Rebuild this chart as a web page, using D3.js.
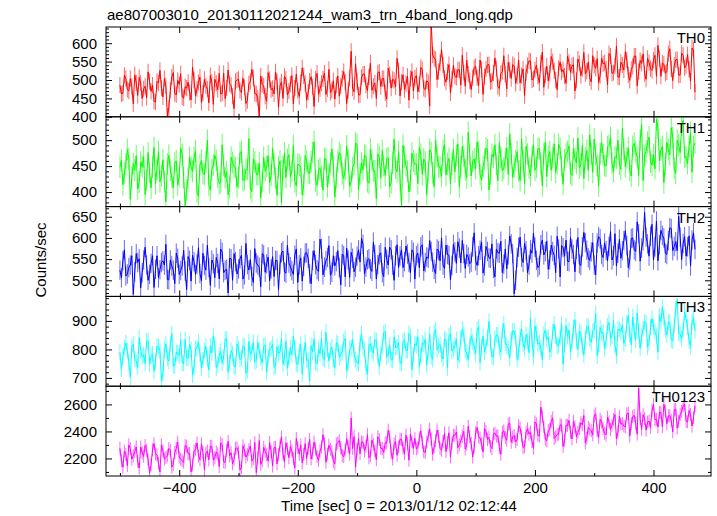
<!DOCTYPE html>
<html><head><meta charset="utf-8">
<script src="https://cdn.jsdelivr.net/npm/d3@7"></script>
<style>
body{margin:0;background:#fff}
text{font-family:"Liberation Sans",Arial,Helvetica,sans-serif}
</style>
</head><body>
<svg id="chart" width="717" height="516"></svg>
<script>
const chartTitle = "ae807003010_20130112021244_wam3_trn_4band_long.qdp";
const xLabel = "Time [sec] 0 = 2013/01/12 02:12:44";
const yLabel = "Counts/sec";
const timeStart = -500, timeStep = 2.5;
const xDomain = [-523.5, 497];
const xMajorTicks = [-400, -200, 0, 200, 400];
const xMinorTicks = [-500, -300, -100, 100, 300];

const panelNames = ["TH0", "TH1", "TH2", "TH3", "TH0123"];
const panelColors = ["#ff0000", "#00ff00", "#0000ff", "#00ffff", "#ff00ff"];
const panelDomains = [[400, 644], [372, 545], [462, 674], [671, 986], [2070, 2735]];
const panelMajorTicks = [[400,450,500,550,600],[400,450,500],[500,550,600,650],[700,800,900],[2200,2400,2600]];
const panelMinorStep = [10, 10, 10, 20, 100];
const panelErrors = [22, 21, 23, 28, 48];

const th0 = [
486,462,464,513,504,474,470,504,482,435,514,492,458,507,492,450,476,483,452,522,
496,469,486,442,440,496,492,526,478,454,504,484,402,424,472,508,520,463,460,499,
488,517,454,451,482,478,494,466,446,535,500,457,476,493,508,439,464,502,484,475,
438,512,494,434,502,491,474,518,462,464,518,449,478,527,490,485,456,422,496,500,
502,472,466,505,480,436,444,490,496,529,506,463,462,451,398,511,488,484,456,442,
520,501,474,477,462,522,496,426,484,495,450,510,502,459,470,489,512,435,478,516,
471,455,493,533,511,491,445,467,497,509,481,428,503,518,461,476,491,503,519,461,
476,529,466,472,498,448,486,511,456,484,504,523,494,436,472,505,578,478,468,544,
496,459,460,507,516,516,486,471,508,546,472,483,492,450,520,522,482,504,504,465,
448,532,514,478,502,499,482,559,526,457,494,514,474,490,510,445,504,523,470,505,
512,468,488,534,528,477,474,498,494,429,660,568,559,556,501,523,547,583,541,505,
494,522,542,465,502,540,510,507,528,528,486,567,520,483,554,516,498,474,506,534,
537,506,485,554,529,461,509,530,541,542,495,497,519,560,531,482,477,518,523,566,
516,476,548,527,504,542,538,491,510,554,492,512,530,458,520,539,552,551,500,503,
528,540,510,492,546,576,480,513,538,498,518,564,550,525,500,474,532,549,522,528,
511,491,565,548,521,539,541,470,499,557,545,512,531,575,517,524,549,506,495,566,
540,532,558,493,512,559,544,547,530,487,572,565,518,520,538,592,508,508,548,541,
527,577,555,514,499,529,537,565,565,484,523,553,545,571,517,502,559,547,531,526,
554,567,510,594,558,510,546,543,518,522,572,585,530,498,540,555,556,513,514,573,
567,533,539,569,529,497,587,581,467];

const th1 = [
448,461,414,437,454,482,464,386,428,455,442,470,406,419,458,449,468,395,424,476,
438,408,448,486,416,444,478,420,432,462,420,381,454,471,442,429,408,456,460,414,
430,485,472,428,374,404,426,467,448,440,466,479,400,392,452,461,436,434,458,500,
413,404,443,452,471,461,429,416,419,491,451,428,439,395,409,467,457,449,447,410,
428,476,478,422,424,443,444,503,408,401,464,458,434,434,456,389,420,467,440,449,
470,418,432,484,454,427,394,448,460,379,448,475,428,463,472,430,440,490,420,412,
454,452,448,395,414,470,460,437,436,458,476,497,422,413,442,446,430,404,464,464,
410,435,456,483,450,390,428,459,476,471,436,426,444,489,462,411,420,447,454,495,
491,405,435,456,443,471,469,420,417,483,461,441,441,387,473,468,427,480,451,432,
464,466,410,418,456,502,446,439,478,424,372,490,468,451,440,400,422,475,460,454,
454,416,486,473,434,464,458,395,440,482,476,437,410,500,468,449,448,431,480,491,
433,455,465,416,455,482,439,470,493,410,449,488,469,443,427,515,473,431,459,464,
445,497,477,434,423,449,463,485,481,404,435,473,467,491,453,422,495,467,441,446,
464,485,434,512,474,428,450,461,478,440,422,503,460,416,488,473,446,431,468,491,
442,448,484,484,456,412,474,496,430,469,478,442,466,493,438,454,492,484,450,415,
462,474,478,489,436,432,484,465,456,504,446,453,490,426,466,480,442,510,474,438,
502,472,452,412,474,496,472,451,450,487,490,505,456,439,468,466,500,454,444,523,
482,449,466,485,442,431,488,494,478,467,432,500,530,422,470,479,496,506,458,452,
472,445,540,523,460,481,488,418,454,496,482,472,524,505,446,436,500,490,476,529,
538,467,468,455,488,515,438,488,494];

const th2 = [
524,506,546,572,510,515,530,536,558,467,520,563,542,551,482,518,548,578,536,500,
514,540,558,483,526,558,506,525,542,546,536,585,502,501,548,534,524,492,564,552,
514,523,534,571,522,478,556,547,498,559,544,514,538,577,516,499,564,535,524,583,
530,488,548,539,506,554,540,503,574,566,518,524,526,470,552,551,500,563,544,515,
527,551,559,503,513,587,537,524,549,509,495,575,541,536,531,485,563,560,519,539,
555,499,527,556,509,547,547,478,537,565,569,520,517,583,541,532,523,514,559,574,
495,537,553,498,533,564,565,552,515,492,547,570,537,525,521,597,575,513,531,546,
554,582,512,519,558,534,544,570,530,489,562,558,508,576,548,507,566,552,520,531,
557,572,543,599,585,515,531,548,551,527,521,590,561,503,537,560,565,518,509,578,
550,536,578,572,536,500,558,584,530,557,572,530,544,581,562,542,518,572,566,503,
558,564,530,579,584,522,542,555,552,594,568,543,526,516,574,570,546,600,536,528,
583,561,559,501,535,585,567,540,591,576,541,594,563,528,561,555,539,543,579,612,
546,535,558,571,590,517,534,580,568,553,552,586,528,508,574,565,564,592,518,538,
574,527,560,605,586,563,468,500,554,578,602,554,542,587,570,518,536,572,564,611,
578,547,530,535,584,595,560,568,592,526,548,583,568,559,518,604,574,508,582,577,
557,595,545,544,601,574,561,520,573,601,539,535,579,613,589,571,553,547,567,589,
536,513,588,603,598,561,554,588,570,546,580,615,548,558,610,534,564,597,552,570,
594,617,582,530,548,599,600,572,568,638,610,545,576,593,660,602,586,557,604,632,
548,579,640,546,584,618,606,600,564,561,594,624,622,570,580,591,570,651,602,549,
587,603,557,579,605,534,595,612,573];

const th3 = [
790,730,775,806,823,794,757,702,808,818,766,758,739,842,796,774,781,750,829,830,
748,775,784,723,757,811,811,795,690,715,799,819,769,759,817,855,742,743,790,787,
778,834,754,750,835,770,769,818,799,710,736,802,805,826,784,734,763,794,811,766,
728,812,788,848,815,736,746,780,794,752,773,836,836,720,755,796,785,740,740,820,
804,764,768,812,810,716,726,828,783,792,825,756,762,824,795,772,753,812,816,720,
776,798,803,818,737,742,809,786,791,838,749,770,830,734,767,806,782,846,806,750,
746,793,818,713,776,825,761,765,690,813,791,837,755,749,803,785,839,769,764,861,
800,760,797,808,764,736,824,820,773,784,791,828,839,724,755,800,806,836,782,764,
753,751,822,855,807,799,738,715,816,819,795,787,834,831,777,739,786,811,858,863,
773,780,815,764,764,844,806,808,824,752,752,828,833,796,797,856,845,728,779,820,
814,845,739,777,823,817,835,745,793,853,775,765,859,869,799,813,817,781,766,837,
833,736,848,856,794,800,815,836,761,780,839,872,854,796,788,764,812,848,827,812,
785,870,878,754,809,846,791,810,842,898,824,774,773,838,851,850,803,790,866,890,
822,813,804,769,837,865,864,841,765,789,843,873,819,801,852,829,789,909,834,773,
883,856,820,824,805,764,853,868,835,844,790,800,862,888,847,812,814,840,889,748,
816,884,846,868,792,824,876,904,831,800,864,856,810,780,840,880,882,836,825,864,
868,926,778,814,877,858,859,802,829,882,895,838,847,902,817,778,871,870,862,886,
821,836,890,920,854,816,914,864,833,928,863,804,845,872,896,892,809,824,878,908,
879,862,846,790,918,898,950,914,870,850,897,894,834,830,885,942,975,858,852,838,
869,931,908,879,830,811,896,911,866];

const th0123 = [
2275,2183,2135,2255,2230,2147,2300,2273,2195,2219,2250,2285,2180,2129,2285,2243,2215,2297,2260,2189,
2090,2154,2265,2310,2235,2226,2165,2100,2300,2256,2195,2208,2220,2274,2260,2136,2155,2244,2275,2322,
2210,2195,2185,2171,2295,2291,2235,2237,2100,2153,2255,2267,2315,2219,2190,2309,2245,2117,2240,2255,
2190,2290,2290,2188,2205,2248,2235,2140,2315,2302,2175,2170,2260,2326,2220,2242,2160,2194,2275,2278,
2248,2114,2133,2294,2263,2210,2228,2264,2293,2180,2198,2318,2095,2204,2333,2156,2183,2282,2253,2228,
2180,2318,2250,2144,2280,2282,2160,2228,2295,2360,2235,2174,2315,2270,2205,2288,2255,2198,2130,2348,
2280,2232,2300,2166,2230,2310,2200,2274,2340,2196,2240,2322,2270,2214,2185,2256,2285,2376,2310,2172,
2232,2298,2267,2250,2177,2160,2307,2316,2332,2280,2222,2214,2262,2346,2287,2232,2500,2274,2362,2136,
2265,2346,2235,2322,2320,2256,2290,2376,2205,2220,2335,2304,2255,2190,2360,2340,2275,2274,2245,2316,
2315,2409,2360,2241,2195,2307,2325,2223,2285,2343,2340,2277,2235,2373,2310,2187,2380,2325,2275,2349,
2270,2279,2350,2405,2320,2249,2245,2321,2365,2417,2340,2231,2285,2333,2410,2363,2275,2261,2325,2387,
2250,2318,2390,2210,2315,2372,2370,2396,2280,2300,2330,2366,2400,2270,2305,2438,2360,2312,2210,2282,
2390,2429,2360,2351,2310,2249,2420,2399,2340,2357,2290,2273,2380,2387,2365,2369,2280,2231,2395,2405,
2355,2335,2455,2461,2320,2359,2370,2323,2340,2443,2425,2365,2280,2287,2395,2419,2380,2395,2325,2275,
2470,2456,2370,2366,2580,2510,2435,2342,2330,2408,2415,2474,2500,2348,2360,2378,2380,2450,2445,2288,
2335,2446,2445,2482,2395,2344,2475,2434,2360,2392,2420,2464,2450,2518,2315,2350,2430,2416,2405,2374,
2515,2530,2405,2356,2490,2470,2420,2386,2375,2506,2470,2416,2445,2488,2525,2344,2395,2512,2455,2458,
2440,2434,2530,2536,2365,2458,2510,2518,2460,2380,2720,2494,2415,2524,2495,2410,2470,2476,2430,2554,
2600,2487,2490,2433,2540,2541,2435,2601,2550,2457,2515,2517,2480,2397,2560,2565,2425,2475,2525,2547,
2590,2603,2475,2471,2555,2525,2440,2501,2590];

const panelValues = [th0, th1, th2, th3, th0123];

// ---- layout ----
const plotLeft = 106, plotRight = 711, plotTop = 27, plotBottom = 476;
const panelH = (plotBottom - plotTop) / panelNames.length;
const fontSize = 15;

const svg = d3.select("#chart");
svg.append("rect").attr("width", 717).attr("height", 516).attr("fill", "#fff");

const x = d3.scaleLinear().domain(xDomain).range([plotLeft, plotRight]);

function styleAxis(g) {
  g.select(".domain").remove();
  g.selectAll("line").attr("stroke", "#000");
  g.selectAll("text").attr("font-size", fontSize).attr("fill", "#000")
    .style("font-family", '"Liberation Sans", Arial, sans-serif');
}

panelNames.forEach((name, k) => {
  const y0 = plotTop + k * panelH, y1 = y0 + panelH;
  const y = d3.scaleLinear().domain(panelDomains[k]).range([y1, y0]);
  const vals = panelValues[k];
  const err = panelErrors[k];
  const pts = vals.map((v, i) => [timeStart + i * timeStep, v]);

  const clipId = "clip" + k;
  svg.append("clipPath").attr("id", clipId)
    .append("rect").attr("x", plotLeft).attr("y", y0).attr("width", plotRight - plotLeft).attr("height", panelH);

  const g = svg.append("g").attr("clip-path", `url(#${clipId})`);

  // error bars
  g.append("path")
    .attr("fill", "none")
    .attr("stroke", panelColors[k])
    .attr("stroke-width", 1)
    .attr("stroke-opacity", 0.6)
    .attr("d", pts.map(d => `M${x(d[0])},${y(d[1] - err)}V${y(d[1] + err)}`).join(""));

  g.append("path")
    .datum(pts)
    .attr("fill", "none")
    .attr("stroke", panelColors[k])
    .attr("stroke-width", 1)
    .attr("d", d3.line().x(d => x(d[0])).y(d => y(d[1])));

  const [dmin, dmax] = panelDomains[k];
  const step = panelMinorStep[k];
  const minors = d3.range(Math.ceil(dmin / step) * step, dmax + 0.001, step)
    .filter(v => !panelMajorTicks[k].includes(v));

  const yMajL = d3.axisLeft(y).tickValues(panelMajorTicks[k]).tickSize(-6).tickPadding(9).tickFormat(d3.format("d"));
  const yMinL = d3.axisLeft(y).tickValues(minors).tickSize(-3).tickFormat("");
  const yMajR = d3.axisRight(y).tickValues(panelMajorTicks[k]).tickSize(-6).tickFormat("");
  const yMinR = d3.axisRight(y).tickValues(minors).tickSize(-3).tickFormat("");
  [[yMajL, plotLeft], [yMinL, plotLeft], [yMajR, plotRight], [yMinR, plotRight]].forEach(([ax, px]) => {
    svg.append("g").attr("transform", `translate(${px},0)`).call(ax).call(styleAxis);
  });

  const isLast = k === panelNames.length - 1;
  const xMajB = d3.axisBottom(x).tickValues(xMajorTicks).tickSize(-6).tickPadding(6)
    .tickFormat(isLast ? d3.format("d") : "");
  const xMinB = d3.axisBottom(x).tickValues(xMinorTicks).tickSize(-3).tickFormat("");
  const xMajT = d3.axisTop(x).tickValues(xMajorTicks).tickSize(-6).tickFormat("");
  const xMinT = d3.axisTop(x).tickValues(xMinorTicks).tickSize(-3).tickFormat("");
  [[xMajB, y1], [xMinB, y1], [xMajT, y0], [xMinT, y0]].forEach(([ax, py]) => {
    svg.append("g").attr("transform", `translate(0,${py})`).call(ax).call(styleAxis);
  });

  svg.append("rect")
    .attr("x", plotLeft).attr("y", y0).attr("width", plotRight - plotLeft).attr("height", panelH)
    .attr("fill", "none").attr("stroke", "#000").attr("stroke-width", 1);

  svg.append("text")
    .attr("x", 705).attr("y", y0 + 16)
    .attr("text-anchor", "end")
    .attr("font-size", fontSize)
    .attr("fill", "#000")
    .text(name);
});

svg.append("text").attr("x", 107).attr("y", 20).attr("font-size", fontSize).attr("fill", "#000").text(chartTitle);
svg.append("text").attr("x", 399).attr("y", 511).attr("text-anchor", "middle").attr("font-size", fontSize).attr("fill", "#000").text(xLabel);
svg.append("text").attr("transform", "translate(46,260) rotate(-90)").attr("text-anchor", "middle")
  .attr("font-size", fontSize).attr("fill", "#000").text(yLabel);
</script>
</body></html>
